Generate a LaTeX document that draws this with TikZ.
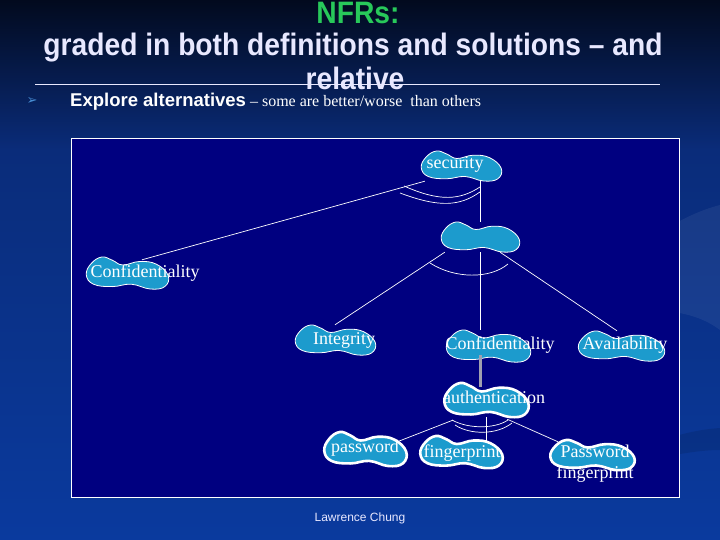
\documentclass[tikz,border=0pt]{standalone}
\usepackage{fontspec}
\usetikzlibrary{calc}
\setmainfont{Liberation Serif}
\newfontfamily\headfont[FakeStretch=0.91]{Liberation Sans}
\newfontfamily\slidesans{Liberation Sans}
\newfontfamily\bulletfont{DejaVu Sans}

\definecolor{bgtop}{RGB}{2,10,30}
\definecolor{bgmid}{RGB}{10,44,122}
\definecolor{bgbot}{RGB}{10,58,158}
\definecolor{navypanel}{RGB}{0,0,128}
\definecolor{blobfill}{RGB}{28,155,205}
\definecolor{titlegreen}{RGB}{40,200,90}
\definecolor{titletext}{RGB}{232,232,255}
\definecolor{bulletblue}{RGB}{70,140,210}
\definecolor{bargray}{RGB}{160,160,176}

\tikzset{
  hit/.style 2 args={minimum width=#1, minimum height=#2, inner sep=0pt},
  blobpaint/.style={fill=blobfill, draw=white, line width=0.8pt},
  heavy/.style={blobpaint/.append style={line width=2.6pt}},
  pics/blob/.style 2 args={code={
    \path[blobpaint] plot[smooth cycle, tension=0.7] coordinates {
      (-0.97*#1,0.1*#2) (-0.85*#1,-0.6*#2) (-0.6*#1,-1.0*#2) (-0.35*#1,-0.8*#2)
      (-0.1*#1,-0.5*#2) (0.3*#1,-0.72*#2) (0.7*#1,-0.55*#2) (0.98*#1,0.15*#2)
      (0.9*#1,0.85*#2) (0.55*#1,1.0*#2) (0.1*#1,0.7*#2) (-0.35*#1,0.85*#2)
      (-0.8*#1,0.7*#2)};
  }},
  word/.style={text=white, inner sep=0pt, text height=12pt, text depth=4pt,
    font=\fontsize{18}{20}\selectfont},
  link/.style={draw=white, line width=0.7pt},
  headline/.style={text=titletext, inner sep=0pt, anchor=base,
    font=\headfont\bfseries\fontsize{31}{34}\selectfont},
}

\begin{document}
\begin{tikzpicture}[x=1pt, y=-1pt]
  \useasboundingbox (0,0) rectangle (720,540);
  % slide background
  \shade[top color=bgtop, bottom color=bgmid] (0,0) rectangle (720,150);
  \shade[top color=bgmid, bottom color=bgbot] (0,150) rectangle (720,540);
  \fill[white, opacity=0.06] (560,330) .. controls (620,250) and (680,215) .. (720,205)
    -- (720,330) .. controls (680,300) and (620,310) .. cycle;
  \fill[black, opacity=0.10] (600,470) .. controls (650,440) and (690,430) .. (720,428)
    -- (720,450) .. controls (690,450) and (650,460) .. cycle;

  % headline
  \node[headline, text=titlegreen] (nfr) at (358,24) {NFRs:};
  \node[headline] (grade) at (353,56) {graded in both definitions and solutions – and};
  \draw[titletext, line width=0.8pt] (35,84.5) -- (660,84.5);
  \node[headline] (rel) at (355,90) {relative};
  \node[text=bulletblue, font=\bulletfont\fontsize{13}{14}\selectfont] (bul) at (32,101) {➢};
  \node[anchor=base west, inner sep=0pt, text=white] (expl) at (70,107)
    {{\slidesans\bfseries\fontsize{18.5}{20}\selectfont Explore alternatives}%
     {\fontsize{16}{18}\selectfont\ – some are better/worse\ \ than others}};

  % diagram panel
  \draw[draw=white, line width=0.8pt, fill=navypanel] (71,138) rectangle (679,497);

  \node[hit={82}{30}] (sec) at (461,166) {};
  \node[hit={80}{30}] (mid) at (480,237) {};
  \node[hit={84}{32}] (confl) at (127,273) {};
  \node[hit={82}{30}] (integ) at (335,340) {};
  \node[hit={86}{32}] (confm) at (488,346) {};
  \node[hit={88}{30}] (avail) at (621,346) {};
  \node[hit={86}{34}] (authn) at (486,400) {};
  \node[hit={84}{34}] (pass) at (365,449) {};
  \node[hit={84}{32}] (finger) at (461,452) {};
  \node[hit={86}{30}] (pwfp) at (592,455) {};

  % links
  \draw[link] (mid.north |- sec.south) -- (mid.north);
  \draw[link] ($(sec.south west)+(5,0)$) -- ($(confl.north)+(15,3)$);
  \draw[link] ($(mid.south west)+(5,0)$) -- (integ.north);
  \draw[link] (mid.south) -- (mid.south |- confm.north);
  \draw[link] ($(mid.south)+(20,0)$) -- ($(avail.north)+(-4,0)$);
  \draw[link] ($(authn.south west)+(10,3)$) -- ($(pass.north east)+(-10,10)$);
  \draw[link] (authn.south) -- ($(authn.south |- finger.north)+(0,6)$);
  \draw[link] ($(authn.south east)+(-22,2)$) -- ($(pwfp.north)+(-34,2)$);

  % decomposition arcs
  \draw[link] (404,186) .. controls (440,202) and (460,200) .. (480,187);
  \draw[link] (400,193) .. controls (440,208) and (460,206) .. (480,192);
  \draw[link] (430,263) .. controls (455,279) and (490,279) .. (508,264);
  \draw[link] (452,420) .. controls (468,429) and (495,429) .. (508,420);
  \draw[link] (455,425) .. controls (470,435) and (497,435) .. (512,423);

  % softgoal blobs
  \pic at (sec) {blob={41}{15}};
  \pic at (mid) {blob={40}{15}};
  \pic at (confl) {blob={42}{16}};
  \pic at (integ) {blob={41}{15}};
  \pic at (confm) {blob={43}{16}};
  \pic at (avail) {blob={44}{15}};
  \pic[heavy] at (authn) {blob={43}{17}};
  \pic[heavy] at (pass) {blob={42}{17}};
  \pic[heavy] at (finger) {blob={42}{16}};
  \pic[heavy] at (pwfp) {blob={43}{15}};

  \draw[bargray, line width=3pt] ($(confm.south)+(-8,-7)$) -- ($(authn.north)+(-6,4)$);

  \node[word] (sec-t) at (455,165) {security};
  \node[word] (confl-t) at (145,273) {Confidentiality};
  \node[word] (integ-t) at (344,340) {Integrity};
  \node[word] (confm-t) at (500,345) {Confidentiality};
  \node[word] (avail-t) at (625,345) {Availability};
  \node[word] (authn-t) at (494,399) {authentication};
  \node[word] (pass-t) at (365,448) {password};
  \node[word] (finger-t) at (462,453) {fingerprint};
  \node[text=white, inner sep=0pt, align=center, font=\fontsize{18}{21}\selectfont]
    (pwfp-t) at (595,464) {Password\\fingerprint};

  \node[text=titletext, font=\slidesans\fontsize{12}{14}\selectfont] (credit) at (360,518) {Lawrence Chung};
\end{tikzpicture}
\end{document}
